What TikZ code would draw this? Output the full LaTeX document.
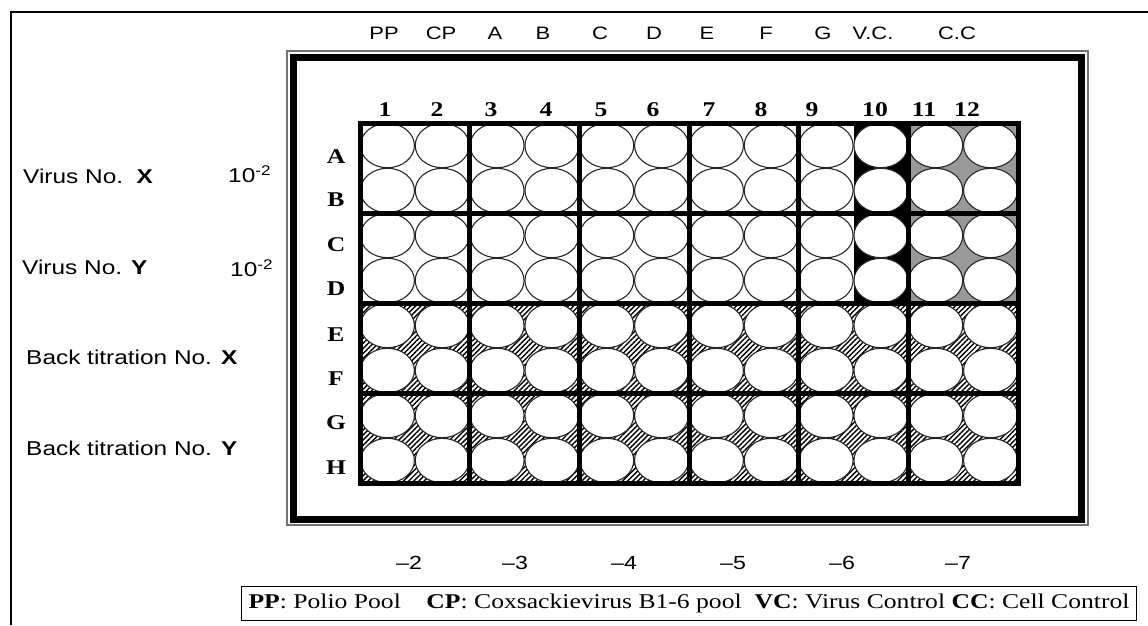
\documentclass[tikz,border=0pt]{standalone}
\usepackage{fontspec}
\setmainfont{Liberation Serif}
\setsansfont{Liberation Sans}
\usepackage{tikz}
\usetikzlibrary{patterns.meta,positioning}

\begin{document}
\begin{tikzpicture}[
    x=1pt, y=-1pt,
    toplabel/.style={font=\sffamily\fontsize{18}{18}\selectfont, xscale=1.22, inner sep=0pt},
    sidelabel/.style={font=\sffamily\fontsize{20}{20}\selectfont, xscale=1.22, inner sep=0pt, anchor=west},
    collabel/.style={font=\bfseries\fontsize{21}{21}\selectfont, xscale=1.22, inner sep=0pt},
    rowlabel/.style={font=\bfseries\fontsize{21}{21}\selectfont, xscale=1.22, inner sep=0pt},
    well/.style={draw=black!85, line width=1.1pt, fill=white},
    divider/.style={line width=5pt}
]
\useasboundingbox (0,0) rectangle (1148,625);
\draw[line width=2pt] (10.5,625) -- (10.5,12) -- (1148,12);

\draw[black!55, line width=1.8pt] (287,51) rectangle (1088,525);
\draw[line width=7pt] (293.5,57.5) rectangle (1081.5,519);

\fill[black] (853.5,123) rectangle (908.3,303);
\fill[black!40] (908.3,123) rectangle (1018,303);
\fill[pattern={Lines[angle=45,distance=3.6pt,line width=1.4pt]}] (360,303) rectangle (1018,483);

\foreach \r in {0,...,7}
  \foreach \c in {0,...,11}
    \draw[well] ({360+54.833*(\c+0.5)},{123+45*(\r+0.5)}) ellipse [x radius=27, y radius=22.2];

\foreach \c in {2,4,...,10}
  \draw[divider] ({360+54.833*\c},123) -- ({360+54.833*\c},483);
\foreach \r in {2,4,6}
  \draw[divider] (360,{123+45*\r}) -- (1018,{123+45*\r});
\draw[divider] (360,123) rectangle (1018,483);

\foreach \t/\x [count=\i] in {PP/384, CP/441, A/495, B/543, C/600, D/654, E/707, F/766, G/823, V.C./873, C.C/957}
  \node[toplabel] (top\i) at (\x,33) {\t};

\foreach \n/\x in {1/385, 2/437, 3/491, 4/546, 5/601, 6/653, 7/709, 8/761, 9/812, 10/875, 11/924, 12/967}
  \node[collabel] (col\n) at (\x,110) {\n};

\foreach \l/\y in {A/157, B/200, C/245, D/289, E/335, F/379, G/423, H/468}
  \node[rowlabel] (row\l) at (336,\y) {\l};

\node[sidelabel] (virx) at (23,176) {Virus No.\ \ \textbf{X}};
\node[sidelabel] (virxdil) at (228,174) {10\textsuperscript{-2}};
\node[sidelabel] (viry) at (22,267) {Virus No. \textbf{Y}};
\node[sidelabel] (virydil) at (230,268) {10\textsuperscript{-2}};
\node[sidelabel] (backx) at (26,357) {Back titration No. \textbf{X}};
\node[sidelabel] (backy) at (26,448) {Back titration No. \textbf{Y}};

\foreach \d/\x in {2/409, 3/515, 4/624, 5/733, 6/842, 7/958}
  \node[toplabel, font=\sffamily\fontsize{19}{19}\selectfont] (dil\d) at (\x,563) {–\d};

\node[draw, line width=1pt, font=\fontsize{21}{21}\selectfont, xscale=1.22, minimum width=734, minimum height=34, inner sep=0pt] (legend) at (689,603) {\textbf{PP}: Polio Pool\quad \textbf{CP}: Coxsackievirus B1-6 pool\enspace \textbf{VC}: Virus Control \textbf{CC}: Cell Control};
\end{tikzpicture}
\end{document}
